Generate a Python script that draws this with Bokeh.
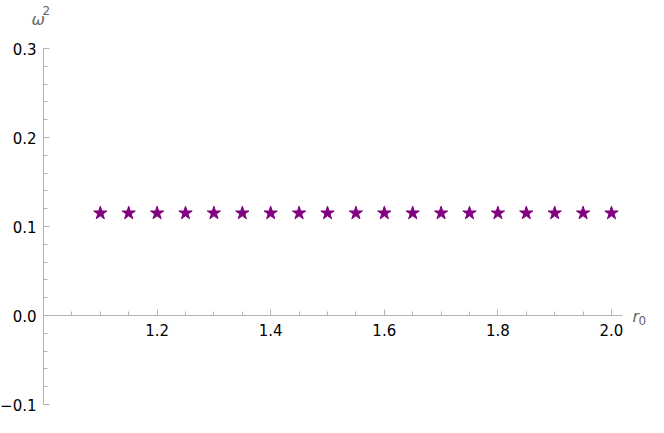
from bokeh.plotting import figure
from bokeh.models import LinearAxis, FixedTicker, Label, Range1d
from bokeh.embed import file_html
from bokeh.resources import INLINE

# data
r0 = [1.10, 1.15, 1.20, 1.25, 1.30, 1.35, 1.40, 1.45, 1.50, 1.55,
      1.60, 1.65, 1.70, 1.75, 1.80, 1.85, 1.90, 1.95, 2.00]
omega2 = [0.115] * 19

x_major = [1.2, 1.4, 1.6, 1.8, 2.0]
x_minor = [1.05, 1.1, 1.15, 1.25, 1.3, 1.35, 1.45, 1.5, 1.55, 1.65, 1.7, 1.75,
           1.85, 1.9, 1.95]
x_labels = {1.2: "1.2", 1.4: "1.4", 1.6: "1.6", 1.8: "1.8", 2.0: "2.0"}
y_major = [-0.1, 0.0, 0.1, 0.2, 0.3]
y_minor = [-0.08, -0.06, -0.04, -0.02, 0.02, 0.04, 0.06, 0.08, 0.12, 0.14, 0.16, 0.18,
           0.22, 0.24, 0.26, 0.28]
y_labels = {-0.1: "\u22120.1", 0.0: "0.0", 0.1: "0.1", 0.2: "0.2", 0.3: "0.3"}

AX = "#b3b3b3"
FONT = "DejaVu Sans"

W, H = 648, 417
SX, SY = 568.0, 890.0           # px per data unit
x_lo = 1.0 - 43 / SX
y_hi = 0.3 + 48 / SY

p = figure(width=W, height=H, output_backend="svg", toolbar_location=None,
           x_range=Range1d(x_lo, x_lo + W / SX), y_range=Range1d(y_hi - H / SY, y_hi),
           x_axis_location=None, y_axis_location=None,
           min_border_left=0, min_border_right=0, min_border_top=0, min_border_bottom=0)
p.outline_line_color = None
p.grid.visible = False
p.background_fill_color = "white"
p.border_fill_color = "white"

xa = LinearAxis(fixed_location=0, bounds=(1.0, 2.019))
xa.ticker = FixedTicker(ticks=x_major, minor_ticks=x_minor)
xa.major_label_overrides = x_labels
p.add_layout(xa, "below")

ya = LinearAxis(fixed_location=1.0, bounds=(-0.1, 0.3))
ya.ticker = FixedTicker(ticks=y_major, minor_ticks=y_minor)
ya.major_label_overrides = y_labels
p.add_layout(ya, "left")

for ax in (xa, ya):
    ax.axis_line_color = AX
    ax.major_tick_line_color = AX
    ax.minor_tick_line_color = AX
    ax.major_tick_in = 6
    ax.major_tick_out = 0
    ax.minor_tick_in = 4
    ax.minor_tick_out = 0
    ax.major_label_text_font = FONT
    ax.major_label_text_font_size = "15px"
    ax.major_label_text_color = "black"
xa.major_label_standoff = 8
ya.major_label_standoff = 7

p.scatter(r0, omega2, marker="star", size=14, color="#800080")

lab = dict(text_font=FONT, text_color="#666666", text_baseline="middle",
           text_align="left")
p.add_layout(Label(x=1.0 - 12 / SX, y=0.3 + 29 / SY, text="\u03c9", text_font_style="italic",
                   text_font_size="16px", **lab))
p.add_layout(Label(x=1.0 - 1 / SX, y=0.3 + 38 / SY, text="2", text_font_size="12px", **lab))
p.add_layout(Label(x=2.0 + 21 / SX, y=-1 / SY, text="r", text_font_style="italic",
                   text_font_size="16px", **lab))
p.add_layout(Label(x=2.0 + 27 / SX, y=-5 / SY, text="0", text_font_size="12px", **lab))

open("out.html", "w").write(file_html(p, INLINE))
